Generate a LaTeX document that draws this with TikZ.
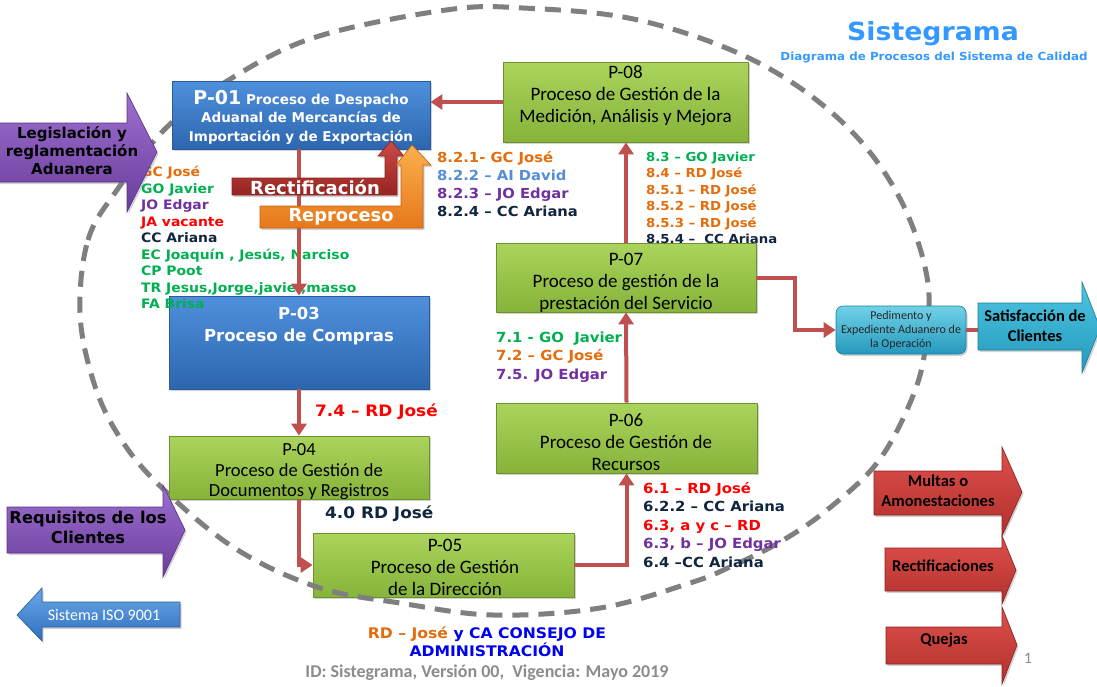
\documentclass[tikz,border=0pt]{standalone}
\usepackage{fontspec}
\setmainfont{Carlito}
\newfontfamily\heavyfont{DejaVu Sans}
\newfontfamily\annfont[FakeStretch=1.07]{DejaVu Sans}
\usetikzlibrary{arrows.meta,shadows}

% text colours
\definecolor{cOr}{HTML}{E46C0A}
\definecolor{cGr}{HTML}{00B050}
\definecolor{cPu}{HTML}{7030A0}
\definecolor{cRe}{HTML}{FF0000}
\definecolor{cNa}{HTML}{10253F}
\definecolor{cLb}{HTML}{558ED5}
\definecolor{cBl}{HTML}{0000F0}
\definecolor{cTitle}{HTML}{3399FF}
\definecolor{cGray}{HTML}{8C8C8C}
% shape colours
\definecolor{cLink}{HTML}{C0504D}
\definecolor{cDash}{HTML}{7F7F7F}
\definecolor{gTop}{HTML}{ABD45C}
\definecolor{gBot}{HTML}{86B33A}
\definecolor{gEdge}{HTML}{6E9130}
\definecolor{bTop}{HTML}{4F90DC}
\definecolor{bBot}{HTML}{2D66AF}
\definecolor{bEdge}{HTML}{2A5A98}
\definecolor{rTop}{HTML}{DF504C}
\definecolor{rBot}{HTML}{B1302C}
\definecolor{rEdge}{HTML}{8C2220}
\definecolor{dTop}{HTML}{CC4A46}
\definecolor{dBot}{HTML}{962521}
\definecolor{oTop}{HTML}{FBB04E}
\definecolor{oBot}{HTML}{E6781B}
\definecolor{oEdge}{HTML}{C0600F}
\definecolor{pTop}{HTML}{9D6FCF}
\definecolor{pBot}{HTML}{6A3C9C}
\definecolor{pEdge}{HTML}{5B318A}
\definecolor{cyTop}{HTML}{4CC6E2}
\definecolor{cyBot}{HTML}{2598BC}
\definecolor{cyEdge}{HTML}{1E7F9E}
\definecolor{iTop}{HTML}{6AA9E8}
\definecolor{iBot}{HTML}{2F6FBF}

\tikzset{
  shade/.style={drop shadow={opacity=0.35,shadow xshift=1.5pt,shadow yshift=-2pt}},
  gbox/.style={shade,draw=gEdge,line width=0.8pt,top color=gTop,bottom color=gBot,inner sep=0pt},
  bbox/.style={shade,draw=bEdge,line width=0.8pt,top color=bTop,bottom color=bBot,inner sep=0pt},
  gtext/.style={align=center,inner sep=0pt,text=black,font=\fontsize{19}{22}\selectfont},
  btext/.style={align=center,inner sep=0pt,text=white,font=\heavyfont\bfseries},
  ann/.style={anchor=base west,inner sep=0pt,font=\annfont\bfseries},
  link/.style={draw=cLink,line width=4pt},
  linkarrow/.style={link,-{Triangle[length=12pt,width=15pt]}},
  redshape/.style={shade,draw=rEdge,line width=0.6pt,top color=rTop,bottom color=rBot},
  purpleshape/.style={shade,draw=pEdge,line width=0.6pt,top color=pTop,bottom color=pBot},
  cyanshape/.style={shade,draw=cyEdge,line width=0.6pt,top color=cyTop,bottom color=cyBot},
  isoshape/.style={shade,draw=bEdge,line width=0.6pt,top color=iTop,bottom color=iBot},
  rectshape/.style={shade,draw=rEdge,line width=0.6pt,top color=dTop,bottom color=dBot},
  reproshape/.style={shade,draw=oEdge,line width=0.6pt,top color=oTop,bottom color=oBot},
  sidetext/.style={align=center,inner sep=0pt,text=black,font=\fontsize{16.5}{19.5}\selectfont\bfseries},
  heavytext/.style={align=center,inner sep=0pt,text=black,font=\heavyfont\bfseries},
  boundary/.style={draw=cDash,line width=5pt,dash pattern=on 16pt off 10pt}
}

% the dashed system boundary
\newcommand{\boundarypath}{plot[smooth cycle,tension=0.6] coordinates {
  (80,313) (88,240) (117,190) (167,127) (232,78) (316,37) (446,10) (523,8) (638,20)
  (753,60) (840,120) (897,193) (927,277) (925,350) (910,403) (877,463) (827,510)
  (780,542) (730,567) (690,583) (600,608) (493,615) (400,603) (317,587) (233,547)
  (157,483) (117,433) (93,380)}}

\begin{document}
\begin{tikzpicture}[x=1pt,y=-1pt]
\useasboundingbox (0,0) rectangle (1097,686);
\fill[white] (0,0) rectangle (1097,686);
\clip (0,0) rectangle (1097,686);

% ---------- system boundary ----------
\draw[boundary] \boundarypath;

% ---------- process boxes ----------
\node[bbox,minimum width=258pt,minimum height=68pt] (p01) at (301,115) {};
\node[bbox,minimum width=260pt,minimum height=93pt] (p03) at (299,342.5) {};
\node[gbox,minimum width=260pt,minimum height=63pt] (p04) at (299,467.5) {};
\node[gbox,minimum width=261pt,minimum height=64pt] (p05) at (443.5,565) {};
\node[gbox,minimum width=261pt,minimum height=70pt] (p06) at (626.5,438) {};
\node[gbox,minimum width=260pt,minimum height=69pt] (p07) at (626,277.5) {};
\node[gbox,minimum width=245pt,minimum height=80pt] (p08) at (625.5,102) {};
\node[shade,draw=cyEdge,line width=0.6pt,top color=cyTop!80!white,bottom color=cyBot,
      rounded corners=7pt,minimum width=130pt,minimum height=48pt,inner sep=0pt] (ped) at (901,330) {};

% boundary stays visible across the corner of P-05
\begin{scope}
  \clip (p05.south west) rectangle (p05.north east);
  \draw[boundary] \boundarypath;
\end{scope}

\node[btext,font=\heavyfont\bfseries\fontsize{13.5}{18.5}\selectfont] (p01t) at (301,117)
  {{\fontsize{19}{19}\selectfont P-01} Proceso de Despacho\\Aduanal de Mercancías de\\Importación y de Exportación};
\node[btext,font=\heavyfont\bfseries\fontsize{16.5}{22}\selectfont] (p03t) at (299,326)
  {P-03\\Proceso de Compras};
\node[gtext,font=\fontsize{18.5}{20.5}\selectfont] (p04t) at (299,472) {P-04\\Proceso de Gestión de\\Documentos y Registros};
\node[gtext] (p05t) at (445,567) {P-05\\Proceso de Gestión\\de la Dirección};
\node[gtext] (p06t) at (626,442) {P-06\\Proceso de Gestión de\\Recursos};
\node[gtext] (p07t) at (626,283) {P-07\\Proceso de gestión de la\\prestación del Servicio};
\node[gtext] (p08t) at (625.5,96) {P-08\\Proceso de Gestión de la\\Medición, Análisis y Mejora};
\node[align=center,inner sep=0pt,text=black!85,font=\fontsize{12}{14}\selectfont] (pedt) at (901,330)
  {Pedimento y\\Expediente Aduanero de\\la Operación};

% ---------- responsibilities ----------
\begin{scope}[every node/.style={ann,font=\annfont\bfseries\fontsize{13}{15}\selectfont}]
\node[text=cOr] (l1) at (141,176.7) {GC José};
\node[text=cGr] (l2) at (141,193.2) {GO Javier};
\node[text=cPu] (l3) at (141,209.7) {JO Edgar};
\node[text=cRe] (l4) at (141,226.2) {JA vacante};
\node[text=cNa] (l5) at (141,242.7) {CC Ariana};
\node[text=cGr] (l6) at (141,259.2) {EC Joaquín , Jesús, Narciso};
\node[text=cGr] (l7) at (141,275.7) {CP Poot};
\node[text=cGr] (l8) at (141,292.2) {TR Jesus,Jorge,javier,masso};
\node[text=cGr] (l9) at (141,308.7) {FA Brisa};
\end{scope}

\begin{scope}[every node/.style={ann,font=\annfont\bfseries\fontsize{13.8}{15}\selectfont}]
\node[text=cOr] (m1) at (437,162) {8.2.1- GC José};
\node[text=cLb] (m2) at (437,180.3) {8.2.2 – AI David};
\node[text=cPu] (m3) at (437,198.6) {8.2.3 – JO Edgar};
\node[text=cNa] (m4) at (437,216.9) {8.2.4 – CC Ariana};
\end{scope}

\begin{scope}[every node/.style={ann,font=\annfont\bfseries\fontsize{12.4}{14}\selectfont}]
\node[text=cGr] (n1) at (646,161.5) {8.3 – GO Javier};
\node[text=cOr] (n2) at (646,177.9) {8.4 – RD José};
\node[text=cOr] (n3) at (646,194.3) {8.5.1 – RD José};
\node[text=cOr] (n4) at (646,210.7) {8.5.2 – RD José};
\node[text=cOr] (n5) at (646,227.1) {8.5.3 – RD José};
\node[text=cNa] (n6) at (646,243.5) {8.5.4 –\ \ CC Ariana};
\end{scope}

\begin{scope}[every node/.style={ann,font=\annfont\bfseries\fontsize{13.9}{15}\selectfont}]
\node[text=cGr] (s1) at (496,342) {7.1 - GO\ \ Javier};
\node[text=cOr] (s2) at (496,360.5) {7.2 – GC José};
\node[text=cPu] (s3) at (496,379) {7.5. JO Edgar};
\node[text=cRe] (r1) at (643,493) {6.1 – RD José};
\node[text=cNa] (r2) at (643,511.5) {6.2.2 – CC Ariana};
\node[text=cRe] (r3) at (643,530) {6.3, a y c – RD};
\node[text=cPu] (r4) at (643,548.5) {6.3, b – JO Edgar};
\node[text=cNa] (r5) at (643,567) {6.4 –CC Ariana};
\end{scope}

\node[ann,text=cRe,font=\annfont\bfseries\fontsize{15.8}{17}\selectfont] (buy) at (315,416.8) {7.4 – RD José};
\node[ann,text=cNa,font=\annfont\bfseries\fontsize{15.8}{18}\selectfont] (docs) at (325,518.8) {4.0 RD José};

\node[anchor=base,inner sep=0pt,font=\annfont\bfseries\fontsize{14.6}{16}\selectfont] (board) at (487,638.3)
  {\textcolor{cOr}{RD – José} \textcolor{cBl}{y CA CONSEJO DE}};
\node[anchor=base,inner sep=0pt,text=cBl,font=\annfont\bfseries\fontsize{14.6}{16}\selectfont] (board2) at (487,656.3)
  {ADMINISTRACIÓN};
\node[inner sep=0pt,text=cGray,font=\fontsize{18}{20}\selectfont\bfseries] (idline) at (487,673)
  {ID: Sistegrama, Versión 00,\ \ Vigencia: Mayo 2019};
\node[inner sep=0pt,text=cGray,font=\fontsize{16}{18}\selectfont] (pagenum) at (1028,658) {1};

% ---------- title ----------
\node[inner sep=0pt,text=cTitle,font=\annfont\bfseries\fontsize{25}{30}\selectfont] (title) at (933,34) {Sistegrama};
\node[inner sep=0pt,text=cTitle,font=\annfont\bfseries\fontsize{11.1}{13}\selectfont] (subtitle) at (934,57)
  {Diagrama de Procesos del Sistema de Calidad};

% ---------- process flow ----------
\coordinate (satback) at (979,330);
\draw[linkarrow] (p08.west) -- (p08.west -| p01.east);
\draw[linkarrow] (p03.north |- p01.south) -- (p03.north);
\draw[linkarrow] (p03.south) -- (p04.north);
\draw[linkarrow] (p04.south) |- (p05.west);
\draw[linkarrow] (p05.east) -| (p06.south);
\draw[linkarrow] (p06.north) -- (p07.south);
\draw[linkarrow] (p07.north) -- (p07.north |- p08.south);
\draw[linkarrow] (p07.east) -- ++(39,0) |- (ped.west);
\draw[link] (ped.east) -- (satback);

% ---------- feedback arrows into P-01 ----------
\path[rectshape] (232,178) -- (385,178) -- (385,156) -- (378,156) -- (391,141) -- (404,156)
  -- (397,156) -- (397,195) -- (232,195) -- cycle;
\node[inner sep=0pt,text=white,font=\heavyfont\bfseries\fontsize{18}{19}\selectfont] (rectif) at (315,187) {Rectificación};
\path[reproshape] (260,206) -- (401,206) -- (401,165) -- (396,165) -- (412,145) -- (431,165)
  -- (423,165) -- (423,228) -- (260,228) -- cycle;
\node[inner sep=0pt,text=white,font=\heavyfont\bfseries\fontsize{17.8}{19}\selectfont] (repro) at (341,217) {Reproceso};

% ---------- inputs ----------
\path[purpleshape] (-3,123) -- (127,123) -- (127,93) -- (157,152) -- (127,212) -- (127,182) -- (-3,182) -- cycle;
\node[heavytext,font=\heavyfont\bfseries\fontsize{15}{18}\selectfont] (legis) at (72,151)
  {Legislación y\\reglamentación\\Aduanera};
\path[purpleshape] (7,507) -- (163,507) -- (163,485) -- (185,530) -- (163,577) -- (163,553) -- (7,553) -- cycle;
\node[heavytext,font=\heavyfont\bfseries\fontsize{16.3}{20}\selectfont] (req) at (88,527)
  {Requisitos de los\\Clientes};
\path[isoshape] (17,615) -- (42,588) -- (42,602) -- (180,602) -- (180,627) -- (42,627) -- (42,641) -- cycle;
\node[inner sep=0pt,text=white,font=\fontsize{16}{18}\selectfont] (iso) at (104,615) {Sistema ISO 9001};

% ---------- outputs ----------
\path[cyanshape] (978,303) -- (1082,303) -- (1082,282) -- (1100,328) -- (1082,373) -- (1082,350) -- (978,350) -- cycle;
\node[sidetext] (sat) at (1035,326) {Satisfacción de\\Clientes};
\path[redshape] (874,471) -- (1002,471) -- (1002,447) -- (1022,492) -- (1002,536) -- (1002,515) -- (874,515) -- cycle;
\node[sidetext] (fines) at (938,491) {Multas o\\Amonestaciones};
\path[redshape] (885,548) -- (1002,548) -- (1002,536) -- (1016,570) -- (1002,604) -- (1002,591) -- (885,591) -- cycle;
\node[sidetext] (rectifs) at (943,566) {Rectificaciones};
\path[redshape] (886,627) -- (1002,627) -- (1002,607) -- (1017,645) -- (1002,684) -- (1002,664) -- (886,664) -- cycle;
\node[sidetext] (complaints) at (944,640) {Quejas};
\end{tikzpicture}
\end{document}
